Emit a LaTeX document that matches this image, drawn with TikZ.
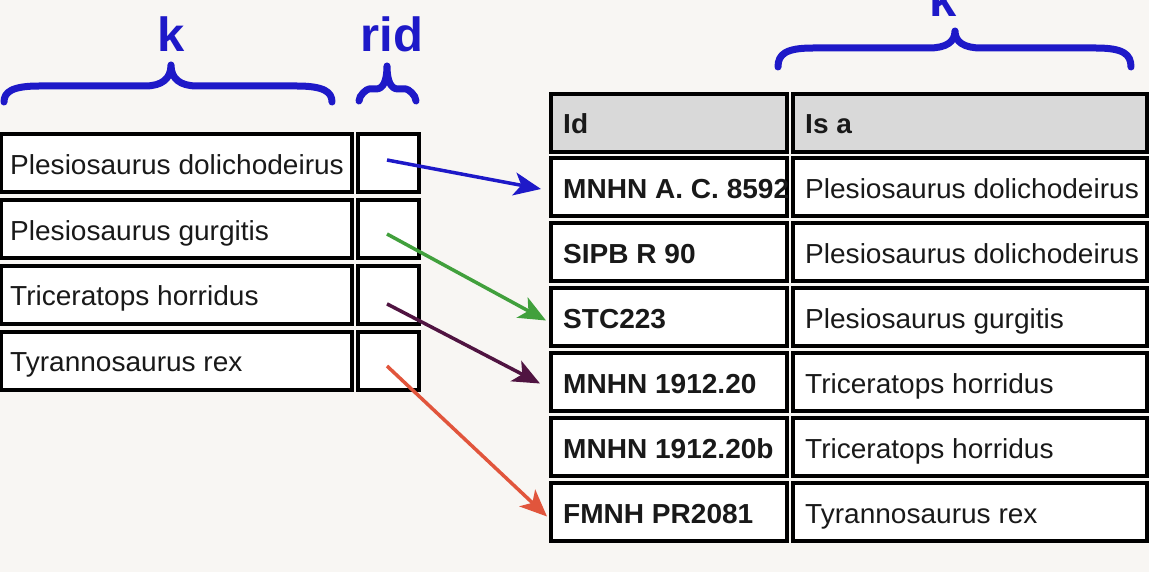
\documentclass[tikz,border=0pt]{standalone}
\usepackage{fontspec}
\setmainfont{Liberation Sans}[FakeStretch=1.02]
\usetikzlibrary{arrows.meta}
\definecolor{bgc}{RGB}{248,246,243}
\definecolor{bblue}{RGB}{30,25,200}
\definecolor{agreen}{RGB}{65,160,60}
\definecolor{apurple}{RGB}{80,20,65}
\definecolor{ared}{RGB}{225,85,60}
\definecolor{hdr}{RGB}{217,217,217}
\definecolor{txtc}{RGB}{25,25,25}
\newcommand\drawbrace[8]{%
  \draw[bracestyle] (#1,#3) .. controls (#1,{#4+6}) and ({#1+8},#4) .. ({#1+#7},#4)
    -- ({#5-#8},#4) .. controls ({#5-0.35*#8},#4) and (#5,{#4-0.35*(#4-#6)}) .. (#5,#6)
    .. controls (#5,{#4-0.35*(#4-#6)}) and ({#5+0.35*#8},#4) .. ({#5+#8},#4)
    -- ({#2-#7},#4) .. controls ({#2-8},#4) and (#2,{#4+6}) .. (#2,#3);}
\begin{document}
\begin{tikzpicture}[x=1pt,y=-1pt,
  cell/.style={draw=black, line width=4pt, fill=white, inner sep=0pt, rectangle},
  celltxt/.style={anchor=base west, inner sep=0pt, text=txtc, font=\fontsize{27.5}{30}\selectfont},
  boldtxt/.style={celltxt, font=\fontsize{27.5}{30}\selectfont\bfseries},
  bracestyle/.style={draw=bblue, line width=7pt, line cap=round, line join=round},
  bracelabel/.style={anchor=base, inner sep=0pt, text=bblue, font=\fontsize{48}{50}\selectfont\bfseries},
  link/.style={line width=3.5pt, -{Stealth[length=27pt,width=23pt,inset=7pt]}}]
\fill[bgc] (0,0) rectangle (1149,572);
\useasboundingbox (0,0) rectangle (1149,572);

% left table
\foreach \i/\txt in {1/{Plesiosaurus dolichodeirus},2/{Plesiosaurus gurgitis},3/{Triceratops horridus},4/{Tyrannosaurus rex}} {
  \pgfmathsetmacro\cy{163.5+65.7*(\i-1)}
  \node[cell, minimum width=351pt, minimum height=58pt] (k\i) at (176.5,\cy) {};
  \node[cell, minimum width=61pt, minimum height=58pt] (r\i) at (388.5,\cy) {};
  \node[celltxt] (kt\i) at ([xshift=11pt,yshift=-11pt]k\i.west) {\txt};
}

% right table header
\node[cell, fill=hdr, minimum width=236pt, minimum height=58pt] (hid) at (669,123) {};
\node[cell, fill=hdr, minimum width=354pt, minimum height=58pt] (hisa) at (970,123) {};
\node[boldtxt] (hidt) at ([xshift=14pt,yshift=-11pt]hid.west) {Id};
\node[boldtxt] (hisat) at ([xshift=14pt,yshift=-11pt]hisa.west) {Is a};

% right table rows
\foreach \i/\a/\b in {1/{MNHN A. C. 8592}/{Plesiosaurus dolichodeirus},
                      2/{SIPB R 90}/{Plesiosaurus dolichodeirus},
                      3/{STC223}/{Plesiosaurus gurgitis},
                      4/{MNHN 1912.20}/{Triceratops horridus},
                      5/{MNHN 1912.20b}/{Triceratops horridus},
                      6/{FMNH PR2081}/{Tyrannosaurus rex}} {
  \pgfmathsetmacro\cy{187.5+64.9*(\i-1)}
  \node[cell, minimum width=236pt, minimum height=58pt] (t\i) at (669,\cy) {};
  \node[cell, minimum width=354pt, minimum height=58pt] (s\i) at (970,\cy) {};
  \node[boldtxt] (tt\i) at ([xshift=14pt,yshift=-11pt]t\i.west) {\a};
  \node[celltxt] (st\i) at ([xshift=14pt,yshift=-11pt]s\i.west) {\b};
}

% arrows
\draw[link, bblue] ([xshift=-1.5pt,yshift=3.5pt]r1.center) -- ([xshift=-8pt,yshift=-1.5pt]t1.west);
\draw[link, agreen] ([xshift=-1.5pt,yshift=-4.8pt]r2.center) -- ([xshift=-3pt,yshift=-3.2pt]t3.west);
\draw[link, apurple] ([xshift=-1.5pt,yshift=-9pt]r3.center) -- ([xshift=-9pt,yshift=-1.3pt]t4.west);
\draw[link, ared] ([xshift=-1.5pt,yshift=-5.4pt]r4.center) -- ([xshift=-2pt,yshift=-4.5pt]t6.west);

% braces
\drawbrace{4}{332}{102}{86}{171}{65}{35}{26}
\drawbrace{359}{416}{101}{89}{387}{66}{10}{11}
\drawbrace{778}{1131}{67}{48}{955}{31}{35}{26}
\node[bracelabel] (lk) at (171,52) {k};
\node[bracelabel] (lrid) at (392,52) {rid};
\node[bracelabel] (rk) at (943,17) {k};
\end{tikzpicture}
\end{document}
